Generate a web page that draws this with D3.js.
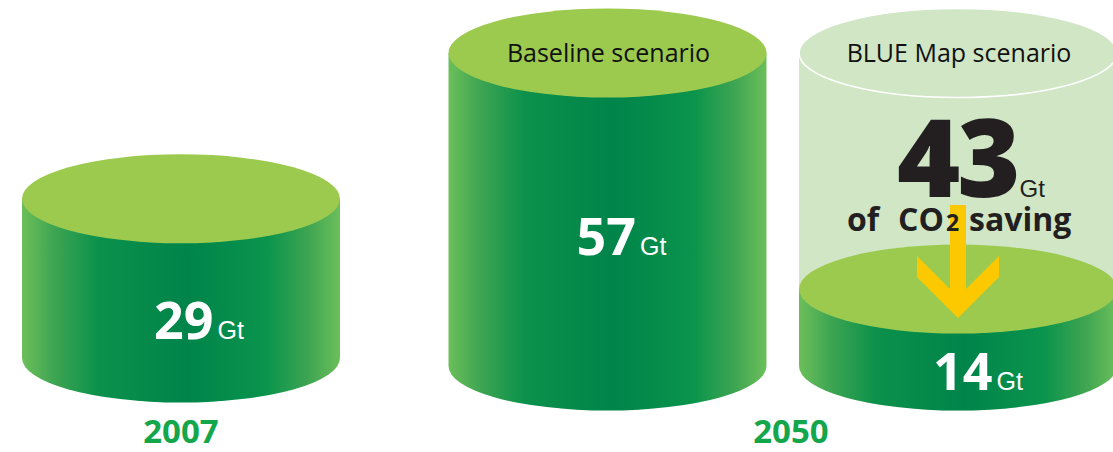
<!DOCTYPE html>
<html>
<head>
<meta charset="utf-8">
<script src="https://cdn.jsdelivr.net/npm/d3@7"></script>
<style>
  html, body { margin: 0; padding: 0; background: #ffffff; }
  svg { display: block; }
</style>
</head>
<body>
<svg id="chart" width="1113" height="452"></svg>
<script>
// ---- data ----
const ids = ["y2007", "baseline", "blueMap"];
const years = ["2007", "2050", "2050"];
const scenarios = ["", "Baseline scenario", "BLUE Map scenario"];
const values = [29, 57, 14];
const savingValue = 43;
const unit = "Gt";
const yearLabels = ["2007", "2050"];

// ---- layout ----
const W = 1113, H = 452;
const svg = d3.select("#chart");
const defs = svg.append("defs");

const x = d3.scaleOrdinal().domain(ids).range([181, 607.5, 958]);
const base = d3.scaleOrdinal().domain(ids).range([358, 366, 366]);
const h = d3.scaleLinear().domain([0, 57]).range([0, 313]);
const rx = 159, ry = 44.5;

// gradient for cylinder side
const grad = defs.append("linearGradient").attr("id", "side").attr("x1", "0").attr("x2", "1").attr("y1", "0").attr("y2", "0");
[[0, "#6cbf5a"], [0.1, "#3ea552"], [0.24, "#0b914b"], [0.52, "#00844a"], [0.77, "#0a944c"], [0.9, "#3ea552"], [1, "#6cbf5a"]]
  .forEach(([o, c]) => grad.append("stop").attr("offset", o).attr("stop-color", c));

function sidePath(cx, top, bot) {
  return `M${cx - rx},${top} L${cx - rx},${bot} A${rx},${ry} 0 0 0 ${cx + rx},${bot} L${cx + rx},${top} Z`;
}

// glass cylinder for BLUE Map (total = 14 + 43)
const gId = "blueMap";
const gTop = base(gId) - h(values[2] + savingValue);
svg.append("path").attr("d", sidePath(x(gId), gTop, base(gId))).attr("fill", "#d0e6c5");
svg.append("ellipse").attr("cx", x(gId)).attr("cy", gTop).attr("rx", rx).attr("ry", ry)
  .attr("fill", "#d0e6c5").attr("stroke", "#ffffff").attr("stroke-width", 1.6);

// solid cylinders
const cyl = svg.selectAll("g.cyl").data(ids).enter().append("g").attr("class", "cyl");
cyl.append("path")
  .attr("d", (d, i) => sidePath(x(d), base(d) - h(values[i]), base(d)))
  .attr("fill", "url(#side)");
cyl.append("ellipse")
  .attr("cx", d => x(d)).attr("cy", (d, i) => base(d) - h(values[i]))
  .attr("rx", rx).attr("ry", ry).attr("fill", "#9bca4f");

// arrow (drawn beneath the saving text)
const ax = x(gId);
const aTip = base(gId) - h(values[2]) + 29;
const aTopY = 205, shaftHalf = 8, armX = 41, armH = 15;
const armTop = aTip - 62;
const innerY = armTop + (armX - shaftHalf);
const pts = [
  [ax - shaftHalf, aTopY], [ax + shaftHalf, aTopY], [ax + shaftHalf, innerY],
  [ax + armX, armTop], [ax + armX, armTop + armH + 6], [ax, aTip],
  [ax - armX, armTop + armH + 6], [ax - armX, armTop], [ax - shaftHalf, innerY]
];
svg.append("polygon").attr("points", pts.map(p => p.join(",")).join(" ")).attr("fill", "#fcc800");

// scenario labels on top
svg.selectAll("text.scen").data(ids).enter().filter((d, i) => scenarios[i] !== "")
  .append("text").attr("class", "scen")
  .attr("x", d => x(d) + 1)
  .attr("y", d => base(d) - h(57) + 9)
  .attr("text-anchor", "middle")
  .attr("font-family", "'Open Sans', sans-serif")
  .attr("font-size", 25).attr("font-weight", 500)
  .attr("fill", "#111111")
  .text(d => scenarios[ids.indexOf(d)]);

// value labels
const labelY = [339, 255, 390];
const labelDx = [18, 14, 20];
const vl = svg.selectAll("text.val").data(ids).enter().append("text").attr("class", "val")
  .attr("x", (d, i) => x(d) + labelDx[i])
  .attr("y", (d, i) => labelY[i])
  .attr("text-anchor", "middle")
  .attr("fill", "#ffffff");
vl.append("tspan").attr("font-family", "'Open Sans', sans-serif").attr("font-weight", "bold")
  .attr("font-size", 52).text((d, i) => values[i]);
vl.append("tspan").attr("font-family", "'Liberation Sans', Arial, sans-serif")
  .attr("font-size", 25).attr("dx", 4).text(unit);

// saving label
const sv = svg.append("text").attr("x", x(gId) + 13).attr("y", 197).attr("text-anchor", "middle").attr("fill", "#231f20");
sv.append("tspan").attr("font-family", "'Open Sans', sans-serif").attr("font-weight", 800)
  .attr("font-size", 108).attr("letter-spacing", -3).text(savingValue);
sv.append("tspan").attr("font-family", "'Liberation Sans', Arial, sans-serif")
  .attr("font-size", 24).attr("dx", 2).text(unit);

const sv2 = svg.append("text").attr("y", 231)
  .attr("fill", "#231f20").attr("font-family", "'Open Sans', sans-serif").attr("font-weight", "bold");
sv2.append("tspan").attr("x", ax - 111).attr("font-size", 32).text("of");
sv2.append("tspan").attr("x", ax - 60).attr("font-size", 32).text("CO");
sv2.append("tspan").attr("x", ax - 12).attr("font-size", 23).text("2");
sv2.append("tspan").attr("x", ax + 11).attr("font-size", 32).text("saving");

// year labels
const yearX = d3.scaleOrdinal().domain(yearLabels).range([181, 791]);
svg.selectAll("text.year").data(yearLabels).enter().append("text").attr("class", "year")
  .attr("x", d => yearX(d)).attr("y", 443)
  .attr("text-anchor", "middle")
  .attr("font-family", "'Open Sans', sans-serif").attr("font-weight", "bold")
  .attr("font-size", 33).attr("fill", "#14a64b")
  .text(d => d);
</script>
</body>
</html>
